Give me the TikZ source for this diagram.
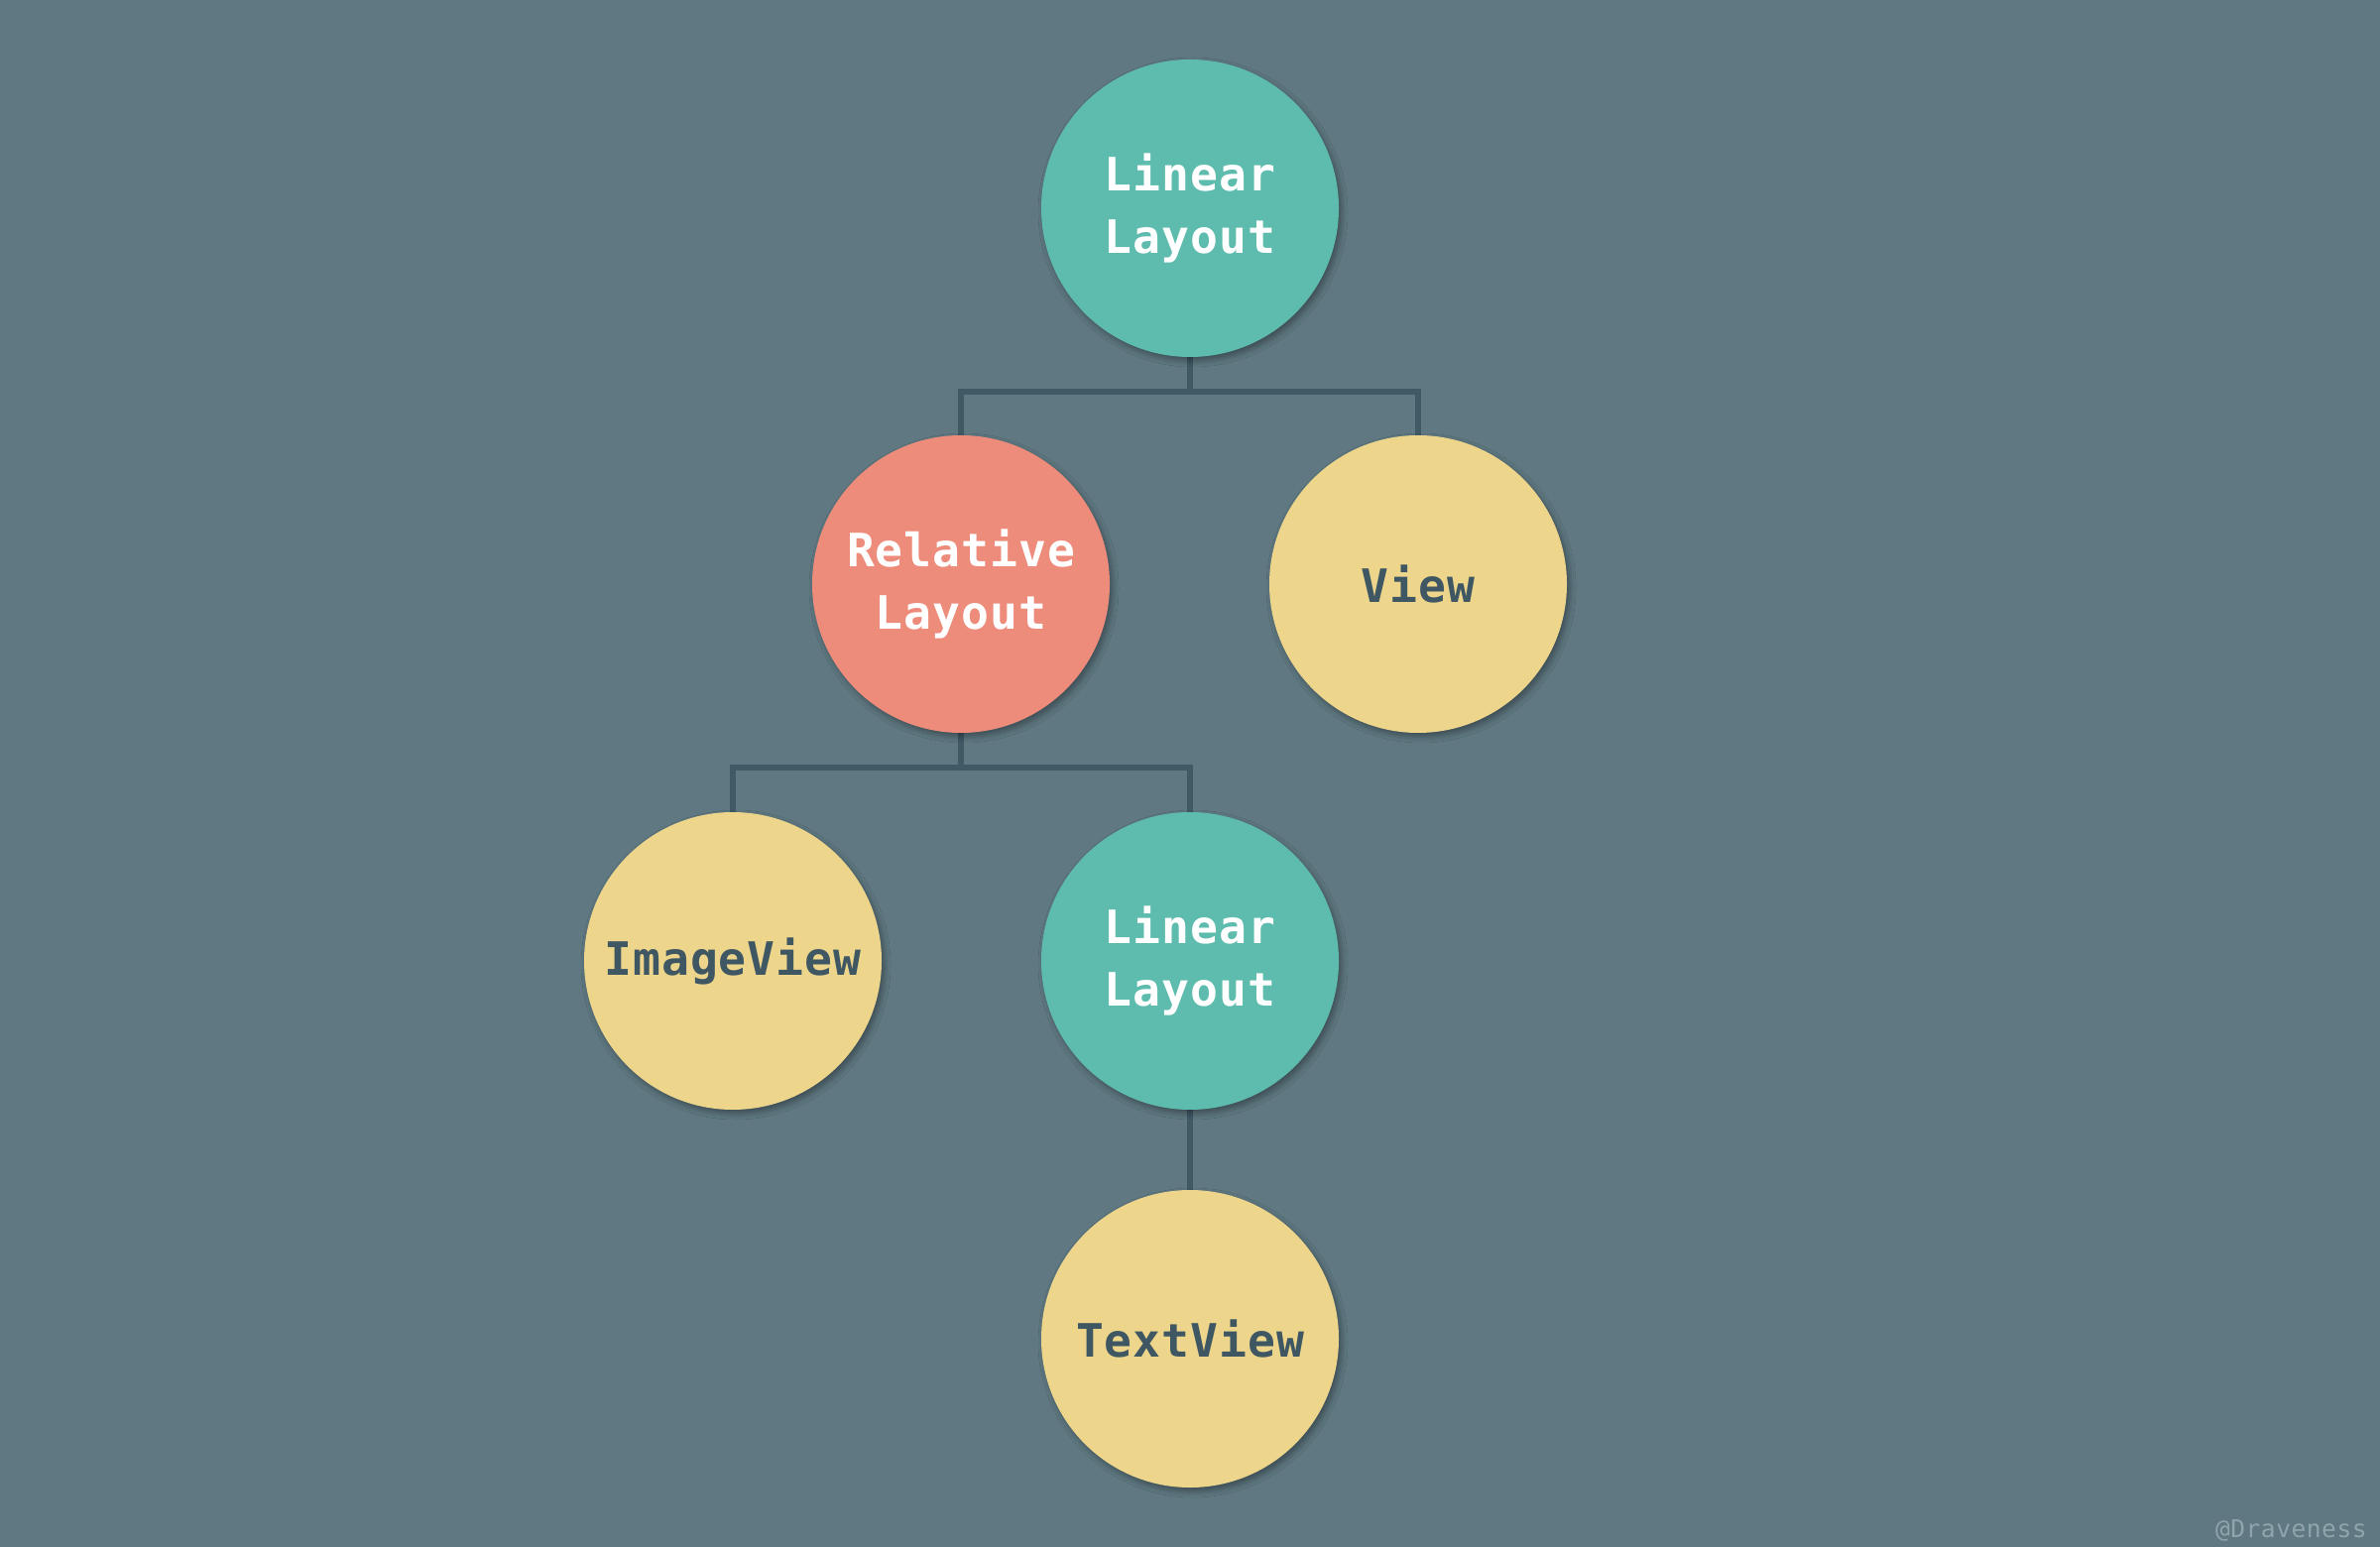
\documentclass[tikz,border=0pt]{standalone}
\usepackage{fontspec}
\setmonofont{DejaVu Sans Mono}[LetterSpace=2]
\usetikzlibrary{shadows.blur}

\definecolor{bgcol}{HTML}{5F7881}
\definecolor{linecol}{HTML}{3F5965}
\definecolor{tealcol}{HTML}{5DBCAD}
\definecolor{redcol}{HTML}{EE8C7C}
\definecolor{yellowcol}{HTML}{EDD58C}
\definecolor{darktext}{HTML}{3E5763}
\definecolor{marktext}{HTML}{90A4AC}

\tikzset{
  viewnode/.style={circle, minimum size=3cm, inner sep=0pt, align=center,
    font=\fontsize{13.2}{18}\selectfont\ttfamily\bfseries,
    blur shadow={shadow xshift=0.03cm, shadow yshift=-0.04cm, shadow opacity=35, shadow blur radius=0.06cm}},
  layoutnode/.style={viewnode, fill=tealcol, text=white},
  relnode/.style={viewnode, fill=redcol, text=white},
  leafnode/.style={viewnode, fill=yellowcol, text=darktext},
  link/.style={draw=linecol, line width=1.7pt, line join=miter}
}

\begin{document}
\begin{tikzpicture}
        \fill[bgcol] (0,0) rectangle (24,-15.6);
        \useasboundingbox (0,0) rectangle (24,-15.6);
        % connectors first, circles on top
        \coordinate (topc) at (12,-2.1);
        \coordinate (relc) at (9.69,-5.89);
        \coordinate (linc) at (12,-9.69);
        \draw[link] (12,-3.6) -- (12,-3.95) -| (9.69,-4.39);
        \draw[link] (12,-3.95) -| (14.3,-4.39);
        \draw[link] (9.69,-7.39) -- (9.69,-7.74) -| (7.39,-8.19);
        \draw[link] (9.69,-7.74) -| (12,-8.19);
        \draw[link] (12,-11.19) -- (12,-12.0);
        \node[layoutnode] (top) at (topc) {Linear\\Layout};
        \node[relnode] (rel) at (relc) {Relative\\Layout};
        \node[leafnode] (view) at (14.3,-5.89) {View};
        \node[leafnode] (image) at (7.39,-9.69) {ImageView};
        \node[layoutnode] (lin) at (linc) {Linear\\Layout};
        \node[leafnode] (text) at (12,-13.5) {TextView};
        \node[anchor=base east, text=marktext, font=\fontsize{7}{8}\selectfont\ttfamily] (mark) at (23.99,-15.5) {@Draveness};
    \end{tikzpicture}
\end{document}
